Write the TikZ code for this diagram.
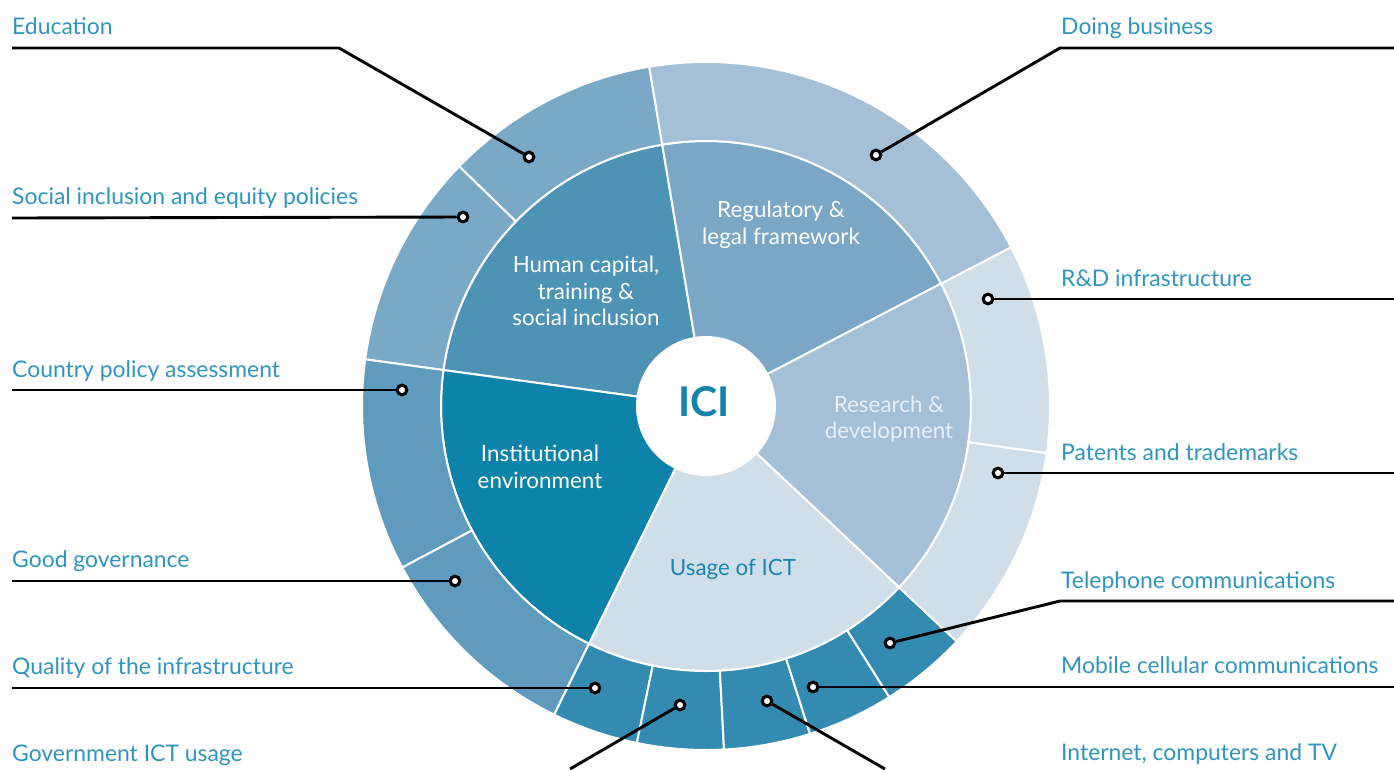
\documentclass[tikz,border=0pt]{standalone}
\usepackage{fontspec}
\setmainfont{Lato}
\definecolor{cHC}{HTML}{4C93B6}
\definecolor{cHCo}{HTML}{7AA8C7}
\definecolor{cReg}{HTML}{7BA7C6}
\definecolor{cRego}{HTML}{A5BFD6}
\definecolor{cRD}{HTML}{A5BFD6}
\definecolor{cRDo}{HTML}{D0DEE9}
\definecolor{cUse}{HTML}{D0DEE9}
\definecolor{cUseo}{HTML}{338BB1}
\definecolor{cInst}{HTML}{0E83AA}
\definecolor{cInsto}{HTML}{5E9BBF}
\definecolor{cLbl}{HTML}{2E95BF}
\definecolor{cUseT}{HTML}{1B86AF}
\definecolor{cICI}{HTML}{1483AD}
\definecolor{cRDT}{HTML}{E9EFF6}
\newcommand{\mysect}[5]{\fill[#5,draw=white,line width=2pt] (#3:#1) arc[start angle=#3,end angle=#4,radius=#1] -- (#4:#2) arc[start angle=#4,end angle=#3,radius=#2] -- cycle;}
\begin{document}
\begin{tikzpicture}[x=1pt,y=-1pt,
  lead/.style={draw=black,line width=2.9pt},
  dotn/.style={circle,draw=black,fill=white,line width=3.1pt,inner sep=0pt,minimum size=9.6pt},
  lbl/.style={anchor=base west,inner sep=0pt,text=cLbl,font=\fontsize{22.9}{26}\selectfont},
  intext/.style={align=center,inner sep=0pt,font=\fontsize{22.4}{26.5}\selectfont}]
\useasboundingbox (0,0) rectangle (1394,769);
\begin{scope}[shift={(706,406)},yscale=-1]
  % inner ring
  \mysect{60}{265}{99.5}{172.2}{cHC}
  \mysect{60}{265}{27.5}{99.5}{cReg}
  \mysect{60}{265}{-43.2}{27.5}{cRD}
  \mysect{60}{265}{-116.2}{-43.2}{cUse}
  \mysect{60}{265}{172.2}{243.8}{cInst}
  % outer ring
  \mysect{265}{344}{99.5}{135.85}{cHCo}
  \mysect{265}{344}{135.85}{172.2}{cHCo}
  \mysect{265}{344}{172.2}{208}{cInsto}
  \mysect{265}{344}{208}{243.8}{cInsto}
  \mysect{265}{344}{243.8}{258.4}{cUseo}
  \mysect{265}{344}{258.4}{273}{cUseo}
  \mysect{265}{344}{273}{287.6}{cUseo}
  \mysect{265}{344}{287.6}{302.2}{cUseo}
  \mysect{265}{344}{302.2}{316.8}{cUseo}
  \mysect{265}{344}{316.8}{352.15}{cRDo}
  \mysect{265}{344}{352.15}{387.5}{cRDo}
  \mysect{265}{344}{27.5}{99.5}{cRego}
  \fill[white] (0,0) circle[radius=70];
\end{scope}

% inner texts
\node[intext,text=white] (tReg) at (781,225) {Regulatory \&\\legal framework};
\node[intext,text=white] (tHC) at (586,291) {Human capital,\\training \&\\social inclusion};
\node[intext,text=cRDT] (tRD) at (889,419) {Research \&\\development};
\node[intext,text=white] (tInst) at (540,467) {Institutional\\environment};
\node[intext,text=cUseT] (tUse) at (733,569) {Usage of ICT};
\node[anchor=base,inner sep=0pt,text=cICI,font=\fontsize{41}{41}\bfseries] (tICI) at (704,416) {ICI};

% labels
\node[lbl] (lEdu) at (12,34) {Education};
\node[lbl] (lSoc) at (12,204) {Social inclusion and equity policies};
\node[lbl] (lCty) at (12,377) {Country policy assessment};
\node[lbl] (lGov) at (12,567) {Good governance};
\node[lbl] (lQua) at (12,674) {Quality of the infrastructure};
\node[lbl] (lGict) at (12,761) {Government ICT usage};
\node[lbl] (lDoi) at (1061,34) {Doing business};
\node[lbl] (lRD) at (1061,286) {R\&D infrastructure};
\node[lbl] (lPat) at (1061,460) {Patents and trademarks};
\node[lbl] (lTel) at (1061,588) {Telephone communications};
\node[lbl] (lMob) at (1061,673) {Mobile cellular communications};
\node[lbl] (lInt) at (1061,760) {Internet, computers and TV};

% dots
\node[dotn] (dEdu) at (529,157) {};
\node[dotn] (dSoc) at (463,217) {};
\node[dotn] (dCty) at (402,390) {};
\node[dotn] (dGov) at (455,581) {};
\node[dotn] (dQua) at (595,688) {};
\node[dotn] (dGict) at (680,705) {};
\node[dotn] (dInt) at (767,701) {};
\node[dotn] (dMob) at (813,687) {};
\node[dotn] (dTel) at (890,643) {};
\node[dotn] (dPat) at (998,473) {};
\node[dotn] (dRD) at (988,299) {};
\node[dotn] (dDoi) at (876,155) {};

% leader lines
\coordinate (eEdu) at (12,48); \coordinate (bEdu) at (339,48);
\draw[lead] (eEdu) -- (bEdu) -- (dEdu);
\coordinate (eSoc) at (12,218);
\draw[lead] (eSoc) -- (dSoc);
\coordinate (eCty) at (12,390);
\draw[lead] (eCty) -- (dCty);
\coordinate (eGov) at (12,581);
\draw[lead] (eGov) -- (dGov);
\coordinate (eQua) at (12,688);
\draw[lead] (eQua) -- (dQua);
\coordinate (eGict) at (570,769);
\draw[lead] (eGict) -- (dGict);
\coordinate (eInt) at (885,769);
\draw[lead] (eInt) -- (dInt);
\coordinate (eMob) at (1394,687);
\draw[lead] (eMob) -- (dMob);
\coordinate (eTel) at (1394,601); \coordinate (bTel) at (1060,601);
\draw[lead] (eTel) -- (bTel) -- (dTel);
\coordinate (ePat) at (1394,473);
\draw[lead] (ePat) -- (dPat);
\coordinate (eRD) at (1394,299);
\draw[lead] (eRD) -- (dRD);
\coordinate (eDoi) at (1394,48); \coordinate (bDoi) at (1060,48);
\draw[lead] (eDoi) -- (bDoi) -- (dDoi);
\end{tikzpicture}
\end{document}
